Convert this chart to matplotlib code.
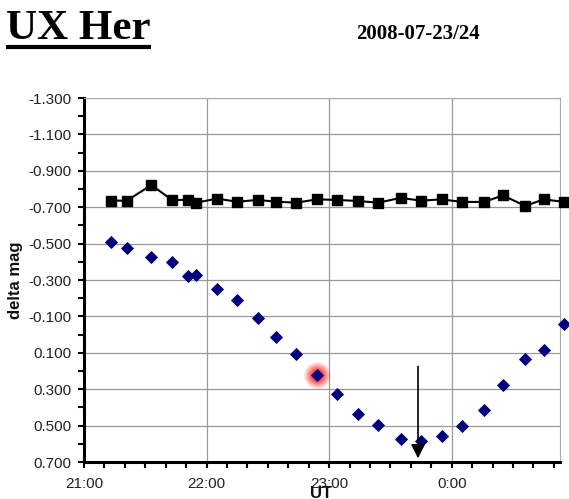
import matplotlib
matplotlib.use("Agg")
import matplotlib.pyplot as plt
from matplotlib.lines import Line2D
from matplotlib.ticker import MultipleLocator, FixedLocator, FixedFormatter

# ---------------- data ----------------
title = "UX Her"
date_label = "2008-07-23/24"
y_label = "delta mag"
x_label = "UT"

# observation times, minutes after 21:00 UT
ut_minutes = [13, 21, 33, 43, 51, 55, 65, 75, 85, 94, 104, 114,
              124, 134, 144, 155, 165, 175, 185, 196, 205, 216, 225, 235]

check_mag = [-0.736, -0.736, -0.822, -0.740, -0.740, -0.725, -0.747, -0.730,
             -0.740, -0.730, -0.725, -0.743, -0.740, -0.734, -0.725, -0.751,
             -0.736, -0.743, -0.729, -0.729, -0.765, -0.707, -0.743, -0.729]

var_mag = [-0.507, -0.474, -0.425, -0.401, -0.322, -0.327, -0.253, -0.188,
           -0.093, 0.015, 0.108, 0.222, 0.328, 0.438, 0.494, 0.574,
           0.583, 0.557, 0.501, 0.414, 0.277, 0.134, 0.085, -0.058]

highlight_index = 11          # point marked with red glow
minimum_time = 163.5          # minutes after 21:00 (arrow)
arrow_mag_start = 0.175
arrow_mag_end = 0.680

hour_ticks = [0, 60, 120, 180]
hour_labels = ["21:00", "22:00", "23:00", "0:00"]
x_max = 233
y_ticks = [-1.3, -1.1, -0.9, -0.7, -0.5, -0.3, -0.1, 0.1, 0.3, 0.5, 0.7]
y_tick_labels = ["%.3f" % v for v in y_ticks]

# ---------------- figure ----------------
W, H = 569, 499
fig = plt.figure(figsize=(W / 100, H / 100), dpi=100)
fig.patch.set_facecolor("white")
ax = fig.add_axes([84 / W, 37 / H, 476 / W, 364 / H])

ax.set_xlim(0, x_max)
ax.set_ylim(0.7, -1.3)

ax.xaxis.set_major_locator(FixedLocator(hour_ticks))
ax.xaxis.set_major_formatter(FixedFormatter(hour_labels))
ax.xaxis.set_minor_locator(MultipleLocator(10))
ax.yaxis.set_major_locator(FixedLocator(y_ticks))
ax.yaxis.set_major_formatter(FixedFormatter(y_tick_labels))
ax.yaxis.set_minor_locator(MultipleLocator(0.1))

ax.grid(True, which="major", color="#999999", lw=0.9)
ax.set_axisbelow(True)

for s in ("left", "bottom"):
    ax.spines[s].set_color("black")
    ax.spines[s].set_linewidth(2.2)
for s in ("top", "right"):
    ax.spines[s].set_color("#aaaaaa")
    ax.spines[s].set_linewidth(0.8)

ax.tick_params(axis="both", which="both", direction="out", length=4,
               width=1.5, color="black", labelcolor="#222222")
ax.tick_params(axis="x", which="major", labelsize=11, pad=6.5)
ax.tick_params(axis="y", which="major", labelsize=11, pad=5)
for lab in ax.get_xticklabels() + ax.get_yticklabels():
    lab.set_fontfamily("Liberation Sans")

# glow around highlighted point
hx, hy = ut_minutes[highlight_index], var_mag[highlight_index]
for d, a in [(27, 0.10), (24, 0.14), (21, 0.18), (18, 0.22), (15, 0.28), (12, 0.3)]:
    ax.scatter([hx], [hy], s=(d * 0.72) ** 2, color="#ff1010", alpha=a,
               lw=0, zorder=3.5, clip_on=False)

ax.plot(ut_minutes, check_mag, color="black", lw=1.5, marker="s", ms=6.5,
        clip_on=False, zorder=3)
ax.plot(ut_minutes, var_mag, ls="none", marker="D", ms=5.7, color="#00007f",
        mec="#00007f", mew=0.6, clip_on=False, zorder=4)

ax.annotate("", xy=(minimum_time, arrow_mag_end),
            xytext=(minimum_time, arrow_mag_start),
            arrowprops=dict(arrowstyle="-|>,head_length=0.6,head_width=0.3",
                            color="black", lw=1.2, mutation_scale=14,
                            shrinkA=0, shrinkB=0), zorder=5)

# axis labels
fig.text(16 / W, 1 - 280 / H, y_label, rotation=90, ha="center", va="center",
         fontfamily="Liberation Sans", fontweight="bold", fontsize=12,
         color="#111111")
fig.text(321 / W, 1 - 486 / H, x_label, ha="center", va="top",
         fontfamily="Liberation Sans", fontweight="bold", fontsize=12,
         color="#111111")

# title and date
t = fig.text(6 / W, 1 - 39 / H, title, ha="left", va="baseline",
             fontfamily="Liberation Serif", fontweight="bold", fontsize=31)
fig.text(356 / W, 1 - 39 / H, date_label, ha="left", va="baseline",
         fontfamily="Liberation Serif", fontweight="bold", fontsize=15)

renderer = fig.canvas.get_renderer()
bb = t.get_window_extent(renderer)
uy = 1 - 47 / H
fig.add_artist(Line2D([bb.x0 / W, bb.x1 / W], [uy, uy],
                      transform=fig.transFigure, color="black", lw=3,
                      solid_capstyle="butt"))

fig.savefig("out.png", dpi=100)
